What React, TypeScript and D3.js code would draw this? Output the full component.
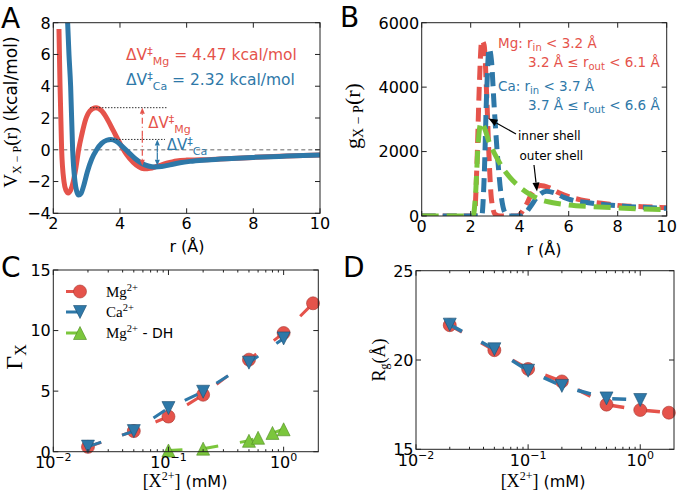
import React from 'react';
import * as d3 from 'd3';

const RED = '#e5534b';
const BLUE = '#2e78a8';
const GREEN = '#7bc63c';
const SANS = "'DejaVu Sans', sans-serif";
const SERIF = "'Liberation Serif', 'DejaVu Serif', serif";

// ---------- Panel A: V_{X-P}(r) ----------
const aMgR = [2.17, 2.2, 2.25, 2.32, 2.38, 2.45, 2.52, 2.6, 2.68, 2.76, 2.86, 2.97, 3.1, 3.28, 3.45, 3.6, 3.8, 4.0, 4.2, 4.4, 4.55, 4.72, 4.9, 5.1, 5.4, 5.7, 6.0, 6.4, 7.0, 8.0, 9.0, 10];
const aMgV = [7.6, 4.2, 0, -2.0, -2.55, -2.72, -2.55, -2.0, -1.1, 0, 1.0, 1.9, 2.45, 2.65, 2.45, 2.0, 1.2, 0.4, -0.3, -0.8, -1.05, -1.2, -1.17, -1.05, -0.85, -0.7, -0.65, -0.63, -0.58, -0.48, -0.4, -0.33];
const aCaR = [2.42, 2.47, 2.52, 2.58, 2.65, 2.7, 2.76, 2.83, 2.92, 3.02, 3.15, 3.3, 3.45, 3.6, 3.73, 3.88, 4.05, 4.25, 4.45, 4.65, 4.85, 5.05, 5.25, 5.5, 5.8, 6.1, 6.6, 7.2, 8.0, 9.0, 10];
const aCaV = [8.5, 6.0, 4.0, 0, -2.0, -2.6, -2.85, -2.75, -2.2, -1.4, -0.6, 0, 0.4, 0.6, 0.65, 0.55, 0.25, -0.15, -0.55, -0.85, -1.02, -1.08, -1.05, -0.95, -0.82, -0.73, -0.64, -0.56, -0.48, -0.4, -0.33];
const aXTicks = [2, 4, 6, 8, 10];
const aYTicks = [-4, -2, 0, 2, 4, 6, 8];

// ---------- Panel B: g_{X-P}(r) ----------
const bMgR = [0, 2.15, 2.25, 2.35, 2.45, 2.55, 2.65, 2.75, 2.85, 3.0, 3.2, 3.9, 4.2, 4.5, 4.85, 5.2, 5.6, 6.0, 6.5, 7.0, 7.5, 8.0, 9.0, 10];
const bMgG = [0, 0, 1500, 4000, 5450, 5300, 3800, 1800, 500, 50, 0, 0, 250, 700, 950, 880, 720, 600, 500, 430, 380, 330, 290, 260];
const bCaR = [0, 2.45, 2.55, 2.65, 2.75, 2.85, 2.95, 3.1, 3.25, 3.4, 3.55, 4.1, 4.4, 4.75, 5.1, 5.4, 5.8, 6.2, 6.8, 7.5, 8.5, 10];
const bCaG = [0, 0, 1200, 3800, 5200, 4800, 3500, 1800, 600, 100, 0, 0, 250, 620, 770, 720, 580, 480, 410, 350, 290, 240];
const bDhR = [0, 2.1, 2.2, 2.3, 2.42, 2.55, 2.75, 3.0, 3.3, 3.6, 4.0, 4.4, 4.8, 5.3, 6.0, 7.0, 8.0, 9.0, 10];
const bDhG = [0, 0, 700, 2200, 2900, 2750, 2300, 1900, 1500, 1200, 900, 680, 520, 420, 340, 290, 250, 220, 200];
const bXTicks = [0, 2, 4, 6, 8, 10];
const bYTicks = [0, 2000, 4000, 6000];

// ---------- Panel C: Gamma_X ----------
const concMg = [0.02, 0.05, 0.1, 0.2, 0.5, 1.0, 1.8];
const gammaMg = [0.4, 1.7, 2.9, 4.7, 7.6, 9.8, 12.25];
const concCa = [0.02, 0.05, 0.1, 0.2, 0.5, 1.0];
const gammaCa = [0.42, 1.7, 3.6, 4.95, 7.35, 9.35];
const concDH = [0.1, 0.2, 0.5, 0.6, 0.8, 1.0];
const gammaDH = [0.1, 0.25, 0.9, 1.15, 1.55, 1.85];
const cYTicks = [0, 5, 10, 15];

// ---------- Panel D: R_g ----------
const rgMg = [21.95, 20.55, 19.5, 18.8, 17.5, 17.2, 17.05];
const rgCa = [21.98, 20.6, 19.4, 18.55, 17.85, 17.76];
const dYTicks = [15, 20, 25];
const logMajor = [0.01, 0.1, 1];
const logExp = ['−2', '−1', '0'];

type Sc = any;

function logMinors(domain: number[]) {
  const out: number[] = [];
  for (let e = -3; e <= 1; e++) {
    for (let m = 2; m <= 9; m++) {
      const v = m * Math.pow(10, e);
      if (v > domain[0] && v < domain[1]) out.push(v);
    }
  }
  return out;
}

function Frame({ x, y, xt, yt, xminor = [], yFmt = (d: number) => String(d).replace('-', '−'), logx = false }:
  { x: Sc; y: Sc; xt: number[]; yt: number[]; xminor?: number[]; yFmt?: (d: number) => string; logx?: boolean }) {
  const [x0, x1] = x.range();
  const [y0, y1] = y.range();
  const L = 5, Lm = 2.5;
  return (
    <g>
      <rect x={x0} y={y1} width={x1 - x0} height={y0 - y1} fill="none" stroke="#222" strokeWidth={1} />
      {xt.map((t, i) => (
        <g key={'xt' + i}>
          <line x1={x(t)} x2={x(t)} y1={y0} y2={y0 - L} stroke="#222" />
          <line x1={x(t)} x2={x(t)} y1={y1} y2={y1 + L} stroke="#222" />
          {logx ? (
            <text x={x(t)} y={y0 + 16.5} textAnchor="middle" fontFamily={SANS} fontSize={16}>
              10<tspan fontSize={11} dy={-7}>{logExp[i]}</tspan>
            </text>
          ) : (
            <text x={x(t)} y={y0 + 15.5} textAnchor="middle" fontFamily={SANS} fontSize={16}>{String(t)}</text>
          )}
        </g>
      ))}
      {xminor.map((t, i) => (
        <g key={'xm' + i}>
          <line x1={x(t)} x2={x(t)} y1={y0} y2={y0 - Lm} stroke="#222" />
          <line x1={x(t)} x2={x(t)} y1={y1} y2={y1 + Lm} stroke="#222" />
        </g>
      ))}
      {yt.map((t, i) => (
        <g key={'yt' + i}>
          <line x1={x0} x2={x0 + L} y1={y(t)} y2={y(t)} stroke="#222" />
          <line x1={x1} x2={x1 - L} y1={y(t)} y2={y(t)} stroke="#222" />
          <text x={x0 - 2.5} y={y(t) + 5.8} textAnchor="end" fontFamily={SANS} fontSize={16}>{yFmt(t)}</text>
        </g>
      ))}
    </g>
  );
}

function triPath(cx: number, cy: number, h: number, down: boolean) {
  if (down) return `M${cx},${cy + h}L${cx - h},${cy - h}L${cx + h},${cy - h}Z`;
  return `M${cx},${cy - h}L${cx - h},${cy + h}L${cx + h},${cy + h}Z`;
}

function Arrow({ x1, y1, x2, y2, color, len = 8, w = 3, dash }: any) {
  const a = Math.atan2(y2 - y1, x2 - x1);
  const bx = x2 - len * Math.cos(a), by = y2 - len * Math.sin(a);
  const px = -Math.sin(a) * w, py = Math.cos(a) * w;
  return (
    <g>
      <line x1={x1} y1={y1} x2={bx} y2={by} stroke={color} strokeWidth={1.2} strokeDasharray={dash} />
      <path d={`M${x2},${y2}L${bx + px},${by + py}L${bx - px},${by - py}Z`} fill={color} />
    </g>
  );
}

export default function App() {
  // Panel A
  const ax = d3.scaleLinear().domain([2, 10]).range([53.3, 320]);
  const ay = d3.scaleLinear().domain([-4, 8]).range([213.3, 22.7]);
  const aLine = d3.line<[number, number]>().x(d => ax(d[0])).y(d => ay(d[1])).curve(d3.curveMonotoneX);
  const aMg = aLine(aMgR.map((r, i) => [r, aMgV[i]]))!;
  const aCa = aLine(aCaR.map((r, i) => [r, aCaV[i]]))!;

  // Panel B
  const bx = d3.scaleLinear().domain([0, 10]).range([421.7, 666.7]);
  const by = d3.scaleLinear().domain([0, 6000]).range([216, 22.7]);
  const bLine = d3.line<[number, number]>().x(d => bx(d[0])).y(d => by(d[1])).curve(d3.curveMonotoneX);
  const bMg = bLine(bMgR.map((r, i) => [r, bMgG[i]]))!;
  const bCa = bLine(bCaR.map((r, i) => [r, bCaG[i]]))!;
  const bDh = bLine(bDhR.map((r, i) => [r, bDhG[i]]))!;

  // Panel C
  const cx = d3.scaleLog().domain([0.01, 2.0]).range([53.3, 318.3]);
  const cy = d3.scaleLinear().domain([0, 15]).range([451.7, 270]);
  const cLine = d3.line<[number, number]>().x(d => cx(d[0])).y(d => cy(d[1]));

  // Panel D
  const dx = d3.scaleLog().domain([0.01, 2.0]).range([416, 674]);
  const dy = d3.scaleLinear().domain([15, 25]).range([449.3, 270.7]);
  const dLine = d3.line<[number, number]>().x(d => dx(d[0])).y(d => dy(d[1]));

  const minors = logMinors([0.01, 2.0]);
  const MS = 6.5;
  const DASH = '14,22';

  return (
    <svg width={678} height={492} style={{ position: 'absolute', left: 0, top: 0, background: '#fff' }}>
      <defs>
        <clipPath id="clipA"><rect x={53.3} y={22.7} width={266.7} height={190.6} /></clipPath>
        <clipPath id="clipB"><rect x={421.7} y={22.7} width={245} height={193.3} /></clipPath>
      </defs>
      <rect x={0} y={0} width={678} height={492} fill="#fff" />

      {/* ================= Panel A ================= */}
      <g clipPath="url(#clipA)">
        <line x1={ax(2.3)} x2={ax(10)} y1={ay(0)} y2={ay(0)} stroke="#999" strokeWidth={1.3} strokeDasharray="4,3" />
        <path d={aMg} fill="none" stroke={RED} strokeWidth={5} strokeLinejoin="round" />
        <path d={aCa} fill="none" stroke={BLUE} strokeWidth={5} strokeLinejoin="round" />
        <line x1={ax(3.1)} x2={ax(5.4)} y1={ay(2.65)} y2={ay(2.65)} stroke="#333" strokeWidth={1} strokeDasharray="1.5,1.5" />
        <line x1={ax(3.7)} x2={ax(5.35)} y1={ay(0.65)} y2={ay(0.65)} stroke="#333" strokeWidth={1} strokeDasharray="1.5,1.5" />
      </g>
      <Arrow x1={ax(4.67)} y1={(ay(2.65) + ay(-1.0)) / 2} x2={ax(4.67)} y2={ay(2.65)} color={RED} dash="6,3,1,3" len={6} w={2.5} />
      <Arrow x1={ax(4.67)} y1={(ay(2.65) + ay(-1.0)) / 2} x2={ax(4.67)} y2={ay(-1.0)} color={RED} dash="6,3,1,3" len={6} w={2.5} />
      <Arrow x1={ax(5.12)} y1={(ay(0.65) + ay(-1.0)) / 2} x2={ax(5.12)} y2={ay(0.65)} color={BLUE} len={6} w={2.5} />
      <Arrow x1={ax(5.12)} y1={(ay(0.65) + ay(-1.0)) / 2} x2={ax(5.12)} y2={ay(-1.0)} color={BLUE} len={6} w={2.5} />
      <text x={148.3} y={128.3} fill={RED} fontFamily={SANS} fontSize={15}>
        ΔV<tspan fontSize={11} dy={-5}>‡</tspan><tspan fontSize={11} dy={10}>Mg</tspan>
      </text>
      <text x={166.7} y={150} fill={BLUE} fontFamily={SANS} fontSize={15}>
        ΔV<tspan fontSize={11} dy={-5}>‡</tspan><tspan fontSize={11} dy={10}>Ca</tspan>
      </text>
      <text x={126} y={60} fill={RED} fontFamily={SANS} fontSize={15.5}>
        ΔV<tspan fontSize={11} dy={-5}>‡</tspan><tspan fontSize={11} dy={10}>Mg</tspan><tspan dy={-5}> = 4.47 kcal/mol</tspan>
      </text>
      <text x={126} y={85} fill={BLUE} fontFamily={SANS} fontSize={15.5}>
        ΔV<tspan fontSize={11} dy={-5}>‡</tspan><tspan fontSize={11} dy={10}>Ca</tspan><tspan dy={-5}> = 2.32 kcal/mol</tspan>
      </text>
      <Frame x={ax} y={ay} xt={aXTicks} yt={aYTicks} />
      <text x={187} y={252} textAnchor="middle" fontFamily={SANS} fontSize={16}>r (Å)</text>
      <text transform="translate(17,112) rotate(-90)" textAnchor="middle" fontSize={17}>
        <tspan fontFamily={SERIF} fontSize={19}>V</tspan>
        <tspan fontFamily={SERIF} fontSize={12} dy={4}>X − P</tspan>
        <tspan fontFamily={SERIF} fontSize={19} dy={-4}>(r)</tspan>
        <tspan fontFamily={SANS}> (kcal/mol)</tspan>
      </text>
      <text x={1} y={28} fontFamily={SANS} fontSize={28}>A</text>

      {/* ================= Panel B ================= */}
      <g clipPath="url(#clipB)">
        <path d={bMg} fill="none" stroke={RED} strokeWidth={5} strokeDasharray="14,7" />
        <path d={bCa} fill="none" stroke={BLUE} strokeWidth={5} strokeDasharray="14,7" />
        <path d={bDh} fill="none" stroke={GREEN} strokeWidth={5} strokeDasharray="17,8" />
      </g>
      <Frame x={bx} y={by} xt={bXTicks} yt={bYTicks} />
      <text x={498} y={48} fill={RED} fontFamily={SANS} fontSize={13.5}>
        Mg: r<tspan fontSize={10} dy={3}>in</tspan><tspan dy={-3}> &lt; 3.2 Å</tspan>
      </text>
      <text x={528} y={67} fill={RED} fontFamily={SANS} fontSize={13.5}>
        3.2 Å ≤ r<tspan fontSize={10} dy={3}>out</tspan><tspan dy={-3}> &lt; 6.1 Å</tspan>
      </text>
      <text x={498} y={91} fill={BLUE} fontFamily={SANS} fontSize={13.5}>
        Ca: r<tspan fontSize={10} dy={3}>in</tspan><tspan dy={-3}> &lt; 3.7 Å</tspan>
      </text>
      <text x={528} y={109.5} fill={BLUE} fontFamily={SANS} fontSize={13.5}>
        3.7 Å ≤ r<tspan fontSize={10} dy={3}>out</tspan><tspan dy={-3}> &lt; 6.6 Å</tspan>
      </text>
      <Arrow x1={516} y1={134} x2={488.5} y2={118.5} color="#000" len={9} w={3.5} />
      <text x={518} y={140} fontFamily={SANS} fontSize={12}>inner shell</text>
      <Arrow x1={534} y1={165} x2={537} y2={191.5} color="#000" len={9} w={3.5} />
      <text x={519.5} y={160} fontFamily={SANS} fontSize={12}>outer shell</text>
      <text x={544} y={255} textAnchor="middle" fontFamily={SANS} fontSize={16}>r (Å)</text>
      <text transform="translate(360,116) rotate(-90)" textAnchor="middle">
        <tspan fontFamily={SERIF} fontSize={22}>g</tspan>
        <tspan fontFamily={SERIF} fontSize={14} dy={3}>X − P</tspan>
        <tspan fontFamily={SERIF} fontSize={22} dy={-3}>(r)</tspan>
      </text>
      <text x={340} y={27} fontFamily={SANS} fontSize={28}>B</text>

      {/* ================= Panel C ================= */}
      <path d={cLine(concMg.map((c, i) => [c, gammaMg[i]]))!} fill="none" stroke={RED} strokeWidth={3} strokeDasharray={DASH} />
      {concMg.map((c, i) => (
        <circle key={'cm' + i} cx={cx(c)} cy={cy(gammaMg[i])} r={MS} fill={RED} stroke="#a8352f" strokeWidth={0.6} />
      ))}
      <path d={cLine(concCa.map((c, i) => [c, gammaCa[i]]))!} fill="none" stroke={BLUE} strokeWidth={3} strokeDasharray={DASH} />
      {concCa.map((c, i) => (
        <path key={'cc' + i} d={triPath(cx(c), cy(gammaCa[i]), MS, true)} fill={BLUE} stroke="#1d4f70" strokeWidth={0.6} />
      ))}
      <path d={cLine(concDH.map((c, i) => [c, gammaDH[i]]))!} fill="none" stroke={GREEN} strokeWidth={3} strokeDasharray={DASH} />
      {concDH.map((c, i) => (
        <path key={'cd' + i} d={triPath(cx(c), cy(gammaDH[i]), MS, false)} fill={GREEN} stroke="#4d8a22" strokeWidth={0.6} />
      ))}
      {/* legend */}
      <line x1={66} x2={80} y1={291.5} y2={291.5} stroke={RED} strokeWidth={3} />
      <circle cx={80} cy={291.5} r={MS} fill={RED} stroke="#a8352f" strokeWidth={0.6} />
      <line x1={66} x2={80} y1={312} y2={312} stroke={BLUE} strokeWidth={3} />
      <path d={triPath(80, 312, MS, true)} fill={BLUE} stroke="#1d4f70" strokeWidth={0.6} />
      <line x1={66} x2={80} y1={333} y2={333} stroke={GREEN} strokeWidth={3} />
      <path d={triPath(80, 333, MS, false)} fill={GREEN} stroke="#4d8a22" strokeWidth={0.6} />
      <text x={106} y={296.5} fontFamily={SERIF} fontSize={15}>Mg<tspan fontSize={10.5} dy={-6}>2+</tspan></text>
      <text x={106} y={317} fontFamily={SERIF} fontSize={15}>Ca<tspan fontSize={10.5} dy={-6}>2+</tspan></text>
      <text x={106} y={338} fontFamily={SERIF} fontSize={15}>Mg<tspan fontSize={10.5} dy={-6}>2+</tspan><tspan dy={6} fontFamily={SANS} fontSize={14}> - DH</tspan></text>
      <Frame x={cx} y={cy} xt={logMajor} yt={cYTicks} xminor={minors} logx />
      <text x={185} y={487} textAnchor="middle" fontFamily={SANS} fontSize={16}>
        <tspan fontFamily={SERIF} fontSize={18}>[X</tspan><tspan fontFamily={SERIF} fontSize={12} dy={-7}>2+</tspan><tspan fontFamily={SERIF} fontSize={18} dy={7}>]</tspan> (mM)
      </text>
      <text transform="translate(22,357) rotate(-90)" textAnchor="middle">
        <tspan fontFamily={SERIF} fontSize={24}>Γ</tspan><tspan fontFamily={SERIF} fontSize={16} dy={4}>X</tspan>
      </text>
      <text x={1} y={277} fontFamily={SANS} fontSize={28}>C</text>

      {/* ================= Panel D ================= */}
      <path d={dLine(concMg.map((c, i) => [c, rgMg[i]]))!} fill="none" stroke={RED} strokeWidth={3.5} strokeDasharray={DASH} />
      {concMg.map((c, i) => (
        <circle key={'dm' + i} cx={dx(c)} cy={dy(rgMg[i])} r={MS} fill={RED} stroke="#a8352f" strokeWidth={0.6} />
      ))}
      <path d={dLine(concCa.map((c, i) => [c, rgCa[i]]))!} fill="none" stroke={BLUE} strokeWidth={3.5} strokeDasharray={DASH} />
      {concCa.map((c, i) => (
        <path key={'dc' + i} d={triPath(dx(c), dy(rgCa[i]), MS, true)} fill={BLUE} stroke="#1d4f70" strokeWidth={0.6} />
      ))}
      <Frame x={dx} y={dy} xt={logMajor} yt={dYTicks} xminor={minors} logx />
      <text x={543} y={487} textAnchor="middle" fontFamily={SANS} fontSize={16}>
        <tspan fontFamily={SERIF} fontSize={18}>[X</tspan><tspan fontFamily={SERIF} fontSize={12} dy={-7}>2+</tspan><tspan fontFamily={SERIF} fontSize={18} dy={7}>]</tspan> (mM)
      </text>
      <text transform="translate(385,360) rotate(-90)" textAnchor="middle">
        <tspan fontFamily={SERIF} fontSize={18}>R</tspan><tspan fontFamily={SERIF} fontSize={12} dy={3}>g</tspan><tspan fontFamily={SERIF} fontSize={18} dy={-3}>(Å)</tspan>
      </text>
      <text x={343} y={277} fontFamily={SANS} fontSize={28}>D</text>
    </svg>
  );
}
